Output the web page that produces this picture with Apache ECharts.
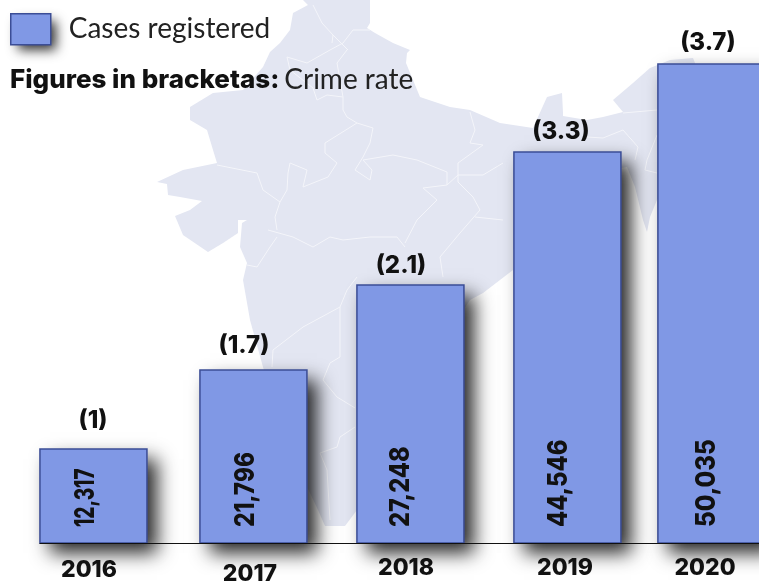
<!DOCTYPE html>
<html><head><meta charset="utf-8">
<style>html,body{margin:0;padding:0;background:#fff;overflow:hidden}#c{width:759px;height:581px}</style>
<script src="https://cdn.jsdelivr.net/npm/echarts@6/dist/echarts.min.js"></script>
</head><body><div id="c"></div>
<script>
// Data
const seriesName = 'Cases registered';
const years = [2016, 2017, 2018, 2019, 2020];
const casesPrinted = ['12,317', '21,796', '27,248', '44,546', '50,035'];
const crimeRate = ['(1)', '(1.7)', '(2.1)', '(3.3)', '(3.7)'];
// The reference's bars are not proportional to their printed numbers,
// so bar levels are read from the drawn heights, on a 0-60,000 scale.
const barLevels = [10390, 19120, 28510, 43200, 52930];

// Hand placement of the reference (pixels), separate from the data
const barNudge = [0, 5.5, 8, 10.5, 0];
const valueNudge = [-7.5, -8, -9.5, -8.5, -4.5];
const valueSqueeze = [0.70, 0.84, 0.87, 0.875, 0.895];
const rateNudge = [-0.5, -9.5, -9.5, -6.5, -3.5];
const rateY = [421, 346, 266, 132, 43];
const yearX = [89, 250, 406, 565, 705];
const yearY = [570, 574, 568, 568, 568];

const FONT = 'Lato';
const BOLD = 'Inter';
const INK = '#111111';
const landColor = '#e3e6f2';

// Decorative India backdrop
const land = [[303,0],[308,5],[293,13],[290,30],[280,43],[270,52],[263,67],[243,90],[213,93],[190,107],[190,120],[207,130],[213,150],[217,163],[183,170],[157,182],[167,184],[168,195],[180,197],[202,201],[190,210],[175,216],[183,235],[208,252],[223,243],[238,233],[238,220],[247,220],[242,223],[240,247],[247,263],[243,280],[250,320],[263,367],[285,440],[318,510],[325,526],[345,526],[357,510],[400,400],[450,330],[470,300],[483,293],[513,270],[513,250],[610,170],[627,167],[635,187],[643,220],[647,232],[650,217],[657,200],[690,150],[695,63],[693,58],[670,60],[650,68],[633,83],[613,100],[623,112],[603,117],[587,120],[563,116],[563,113],[562,93],[547,97],[533,128],[500,123],[470,110],[450,107],[420,97],[406,63],[407,53],[410,50],[393,43],[375,33],[367,28],[370,23],[370,0]];
const borders = [
 [[313,5],[322,23],[333,35],[348,50]],
 [[287,57],[307,63],[330,50],[343,43],[353,30],[370,30]],
 [[333,35],[332,43]],
 [[347,50],[337,63],[343,97],[343,110],[347,117],[357,123],[373,128],[370,143],[363,157],[355,170],[370,180],[372,170],[363,160],[393,155],[417,160],[447,172],[447,185]],
 [[287,57],[290,70],[313,88],[317,100],[327,95],[343,97]],
 [[357,123],[325,143],[325,153],[337,163],[328,177],[303,187],[307,170],[290,163],[288,173],[287,190],[280,202],[275,217],[277,230]],
 [[217,165],[257,173],[263,190],[280,202]],
 [[268,230],[293,237],[313,247],[330,237],[343,240],[370,237],[397,237],[405,247]],
 [[405,243],[417,220],[437,200],[423,188],[447,185],[458,175],[483,175],[503,163]],
 [[470,112],[475,130],[470,143],[483,145],[458,163],[458,182],[473,197],[480,210],[460,233],[440,257],[443,277]],
 [[475,217],[503,220]],
 [[247,265],[257,267],[270,247],[277,237]],
 [[357,277],[347,290],[340,307],[303,327],[273,350],[272,367]],
 [[340,307],[340,357],[330,363],[323,380],[337,397],[355,408]],
 [[355,427],[340,437],[337,447],[320,453],[327,470],[330,520]],
 [[587,137],[603,138],[623,130],[638,147],[635,160]],
 [[623,113],[657,110]],
 [[657,135],[647,160],[645,170],[657,173]]
];

const barFill = '#8098e5', barEdge = '#3b4d96';

const graphicEls = [{type:'polygon',silent:true,z:0,shape:{points:land},style:{fill:landColor}}]
 .concat(borders.map(p=>({type:'polyline',silent:true,z:0,shape:{points:p},style:{stroke:'#f4f5fa',lineWidth:1,fill:null}})))
 .concat([{type:'rect',silent:true,z:1,shape:{x:11,y:14,width:38,height:29},
   style:{fill:barFill,shadowBlur:12,shadowOffsetX:7,shadowOffsetY:7,shadowColor:'rgba(0,0,0,0.8)'}}]);

const chart = echarts.init(document.getElementById('c'), null, {renderer:'canvas', width:759, height:581});
chart.setOption({
  animation:false,
  backgroundColor:'#fff',
  graphic:{elements:graphicEls},
  title:{
    left:10, top:66, padding:0,
    text:'{b|Figures in bracketas:} {r|Crime rate}',
    textStyle:{rich:{
      b:{fontFamily:BOLD,fontWeight:800,fontSize:26,color:INK},
      r:{fontFamily:FONT,fontWeight:400,fontSize:28,color:'#222'}
    }}
  },
  legend:{
    left:10, top:13, padding:0, itemWidth:40, itemHeight:31, selectedMode:false,
    data:[{name:seriesName, icon:'rect', itemStyle:{color:barFill,borderColor:barEdge,borderWidth:1.5,shadowBlur:0,shadowOffsetX:0,shadowOffsetY:0}}],
    textStyle:{fontFamily:FONT,fontSize:28,fontWeight:400,color:'#222',padding:[0,0,0,13]}
  },
  grid:{left:40,right:0,top:0,bottom:38},
  xAxis:{type:'value',min:2015.654,max:2020.308,z:6,splitLine:{show:false},axisTick:{show:false},axisLabel:{show:false},
    axisLine:{show:true,lineStyle:{color:'#111',width:1.2}}},
  yAxis:{type:'value',min:0,max:60000,show:false,splitLine:{show:false}},
  series:[{
    type:'custom', name:seriesName, clip:false, z:3,
    encode:{x:0,y:1},
    data:years.map((y,i)=>[y,barLevels[i]]),
    renderItem(params,api){
      const i = params.dataIndex;
      const top = api.coord([api.value(0),api.value(1)]);
      const base = api.coord([api.value(0),0]);
      const cx = top[0]+barNudge[i];
      const rect = {x:cx-53.5,y:top[1],width:107,height:base[1]-top[1]};
      const text = (x,y,str,size,rot,sq)=>({type:'text',z2:5,x,y,rotation:rot||0,scaleX:sq||1,
        style:{text:str,fontFamily:BOLD,fontWeight:800,fontSize:size,fill:INK,
          textAlign:rot?'left':'center',verticalAlign:'middle'}});
      return {type:'group',children:[
        {type:'rect',z2:1,shape:rect,
          style:{fill:'#333',shadowBlur:18,shadowOffsetX:10,shadowOffsetY:10,shadowColor:'rgba(0,0,0,0.85)'}},
        {type:'rect',z2:2,shape:rect,style:{fill:barFill,stroke:barEdge,lineWidth:1.5}},
        text(cx+valueNudge[i],base[1]-16,casesPrinted[i],27,Math.PI/2,valueSqueeze[i]),
        text(cx+rateNudge[i],rateY[i],crimeRate[i],24),
        text(yearX[i],yearY[i],String(years[i]),23)
      ]};
    }
  }]
});
</script></body></html>
